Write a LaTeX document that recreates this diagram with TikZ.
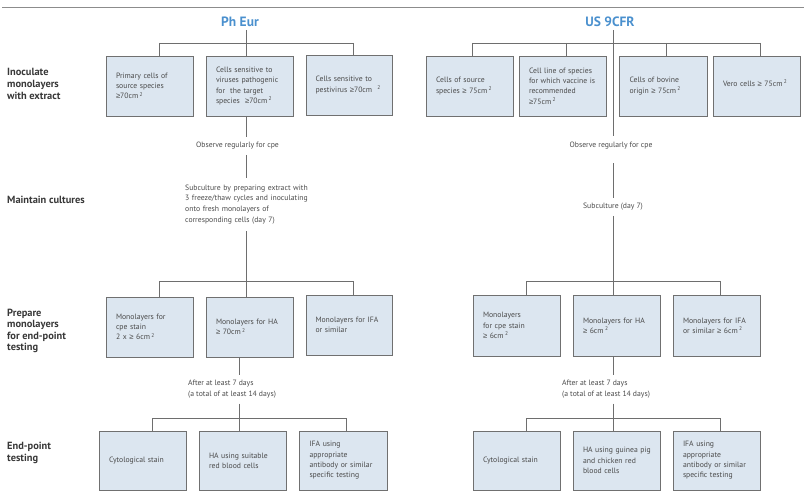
\documentclass[tikz,border=0pt]{standalone}
\usepackage{fontspec}
\setmainfont{PT Sans}
\newfontfamily\symfnt{Liberation Sans}
\newcommand{\mygeq}{{\symfnt ≥}}
\definecolor{boxfill}{HTML}{DCE6F0}
\definecolor{boxline}{HTML}{707070}
\definecolor{conn}{HTML}{6E6E6E}
\definecolor{txt}{HTML}{4A4A4A}
\definecolor{lab}{HTML}{383838}
\definecolor{titleblue}{HTML}{4A90CE}
\newcommand{\sqcm}{cm\,\textsuperscript{2}}
\tikzset{
  cell/.style={draw=boxline, fill=boxfill, line width=0.9pt, minimum width=87pt,
    minimum height=60pt, text width=67pt, align=left, inner sep=0pt,
    font=\fontsize{7.7}{10.3}\selectfont, text=txt},
  note/.style={font=\fontsize{7.7}{10.8}\selectfont, text=txt, inner sep=0pt, align=left},
  rowlabel/.style={font=\bfseries\fontsize{10.4}{11.6}\selectfont, text=lab, anchor=west,
    inner sep=0pt, align=left},
  heading/.style={font=\bfseries\fontsize{13.5}{15}\selectfont, text=titleblue, inner sep=0pt},
  link/.style={draw=conn, line width=0.8pt}
}
\begin{document}
\begin{tikzpicture}[x=1pt,y=-1pt]
\useasboundingbox (0,0) rectangle (804,495);
\draw[draw=gray!90, line width=1.3pt] (2,7.5) -- (804,7.5);

% row labels
\node[rowlabel] (l1) at (7,84) {Inoculate\\monolayers\\with extract};
\node[rowlabel] (l2) at (7,200) {Maintain cultures};
\node[rowlabel] (l3) at (7,331) {Prepare\\monolayers\\for end-point\\testing};
\node[rowlabel] (l4) at (7,453) {End-point\\testing};

% ================= Ph Eur =================
\node[heading] (phe) at (240,22) {Ph Eur};
\coordinate (pv) at (246,0);
\coordinate (pb1) at (159,43);
\coordinate (pb3) at (353,43);
\coordinate (pt) at (246,30);

\node[cell] (p1) at (149.5,86) {Primary cells of\\source species\\\mygeq70\sqcm};
\node[cell] (p2) at (249.5,86) {\mbox{Cells sensitive to}\\\mbox{viruses pathogenic}\\for\ \ the target\\species\ \ \mygeq70\sqcm};
\node[cell, minimum width=86pt] (p3) at (349,85) {\mbox{Cells sensitive to}\\\mbox{pestivirus \mygeq70cm\ \ \textsuperscript{2}}};

\draw[link] (pt) -- (p2.north -| pv);
\draw[link] (pb1) -- (pb3);
\draw[link] (pb1) -- (pb1 |- p1.north);
\draw[link] (pb3) -- (pb3 |- p3.north);

\node[note, inner ysep=5pt] (obs1) at (237.5,146) {Observe regularly for cpe};
\node[note, anchor=west, inner ysep=7pt, text width=135pt] (sub1) at (185,204.5)
  {\mbox{Subculture by preparing extract with}\\\mbox{3 freeze/thaw cycles and inoculating}\\onto fresh monolayers of\\corresponding cells (day 7)};
\coordinate (pm) at (246,281);
\coordinate (pm1) at (159,281);
\coordinate (pm3) at (353,281);
\draw[link] (p2.south -| pv) -- (obs1.north -| pv);
\draw[link] (obs1.south -| pv) -- (sub1.north -| pv);
\draw[link] (sub1.south -| pv) -- (pm);

\node[cell] (m1) at (149.5,327) {Monolayers for\\cpe stain\\2 x \mygeq\ 6\sqcm};
\node[cell] (m2) at (249.5,327) {\mbox{Monolayers for HA}\\\mygeq\ 70\sqcm};
\node[cell, minimum width=86pt] (m3) at (349,325) {\mbox{Monolayers for IFA}\\or similar};
\draw[link] (pm1) -- (pm3);
\draw[link] (pm1) -- (pm1 |- m1.north);
\draw[link] (pm) -- (pm |- m2.north);
\draw[link] (pm3) -- (pm3 |- m3.north);

\coordinate (pw) at (239,0);
\node[note, anchor=west, inner ysep=5pt] (aft1) at (188,389.5)
  {After at least 7 days\\(a total of at least 14 days)};
\coordinate (pe) at (239,418);
\coordinate (pe1) at (152.5,418);
\coordinate (pe3) at (346,418);
\draw[link] (m2.south -| pw) -- (aft1.north -| pw);
\draw[link] (aft1.south -| pw) -- (pe);

\node[cell, minimum height=59pt] (e1) at (142.5,460.5) {Cytological stain};
\node[cell, minimum height=59pt] (e2) at (242.5,460.5) {\mbox{HA using suitable}\\red blood cells};
\node[cell, minimum height=59pt, minimum width=88pt] (e3) at (343,460.5) {IFA using\\appropriate\\\mbox{antibody or similar}\\specific testing};
\draw[link] (pe1) -- (pe3);
\draw[link] (pe1) -- (pe1 |- e1.north);
\draw[link] (pe) -- (pe |- e2.north);
\draw[link] (pe3) -- (pe3 |- e3.north);

% ================= US 9CFR =================
\node[heading] (us) at (610,22) {US 9CFR};
\coordinate (uv) at (613.3,0);
\coordinate (ut) at (613.3,30);
\coordinate (ub1) at (472.7,43);
\coordinate (ub2) at (566,43);
\coordinate (ub3) at (666.7,43);
\coordinate (ub4) at (760,43);

\node[cell] (u1) at (469.5,86) {Cells of source\\species \mygeq\ 75\sqcm};
\node[cell] (u2) at (562.5,86) {\mbox{Cell line of species}\\\mbox{for which vaccine is}\\recommended\\\mygeq75\sqcm};
\node[cell, minimum width=88pt] (u3) at (663,86) {Cells of bovine\\origin \mygeq\ 75\sqcm};
\node[cell] (u4) at (756.5,86) {\raisebox{6pt}{\mbox{Vero cells \mygeq\ 75\sqcm}}};

\draw[link] (ub1) -- (ub4);
\draw[link] (ub1) -- (ub1 |- u1.north);
\draw[link] (ub2) -- (ub2 |- u2.north);
\draw[link] (ub3) -- (ub3 |- u3.north);
\draw[link] (ub4) -- (ub4 |- u4.north);

\node[note] (obs2) at (611,146) {Observe regularly for cpe};
\coordinate (uo1) at (613.3,136);
\coordinate (uo2) at (613.3,163);
\draw[link] (ut) -- (uo1);
\node[note, inner ysep=5pt] (sub2) at (613,207) {Subculture (day 7)};
\coordinate (um) at (613.3,281);
\coordinate (um1) at (526,281);
\coordinate (um3) at (720,281);
\draw[link] (uo2) -- (sub2.north -| uv);
\draw[link] (sub2.south -| uv) -- (um);

\node[cell, minimum height=61pt] (v1) at (516.5,325.5) {Monolayers\\for cpe stain\\\mygeq\ 6\sqcm};
\node[cell, minimum height=61pt] (v2) at (616.5,325.5) {\mbox{Monolayers for HA}\\\mygeq\ 6\sqcm};
\node[cell, minimum height=61pt] (v3) at (716.5,325.5) {\mbox{Monolayers for IFA}\\\mbox{or similar \mygeq\ 6\sqcm}};
\draw[link] (um1) -- (um3);
\draw[link] (um1) -- (um1 |- v1.north);
\draw[link] (um) -- (um |- v2.north);
\draw[link] (um3) -- (um3 |- v3.north);

\node[note, anchor=west, inner ysep=5pt] (aft2) at (562,389.5)
  {After at least 7 days\\(a total of at least 14 days)};
\coordinate (ue) at (613.3,418);
\coordinate (ue1) at (526.5,418);
\coordinate (ue3) at (720.5,418);
\draw[link] (v2.south -| uv) -- (aft2.north -| uv);
\draw[link] (aft2.south -| uv) -- (ue);

\node[cell, minimum height=59pt] (w1) at (516.5,460.5) {Cytological stain};
\node[cell, minimum height=59pt] (w2) at (616.5,460.5) {\mbox{HA using guinea pig}\\and chicken red\\blood cells};
\node[cell, minimum height=59pt] (w3) at (716.5,460.5) {IFA using\\appropriate\\\mbox{antibody or similar}\\specific testing};
\draw[link] (ue1) -- (ue3);
\draw[link] (ue1) -- (ue1 |- w1.north);
\draw[link] (ue) -- (ue |- w2.north);
\draw[link] (ue3) -- (ue3 |- w3.north);
\end{tikzpicture}
\end{document}
